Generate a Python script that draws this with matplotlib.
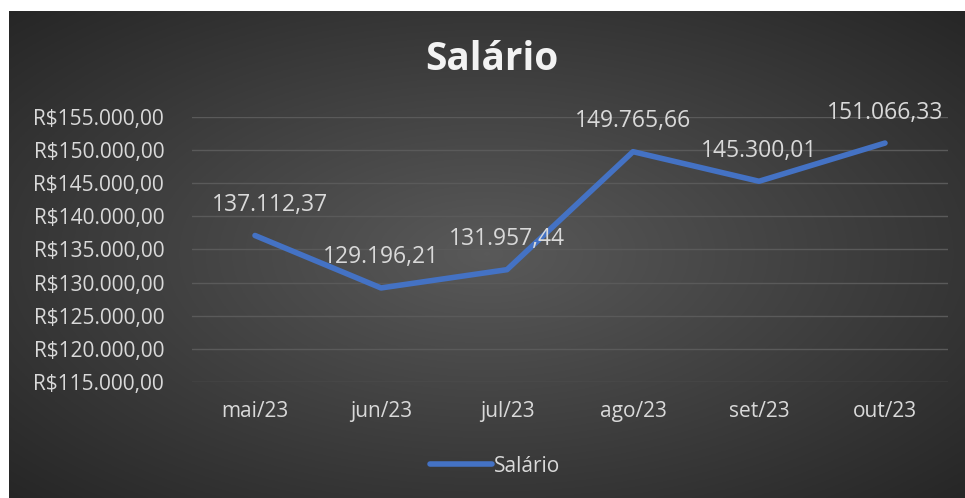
import numpy as np
import matplotlib
matplotlib.use("Agg")
import matplotlib.pyplot as plt
from matplotlib.ticker import FuncFormatter

meses = ["mai/23", "jun/23", "jul/23", "ago/23", "set/23", "out/23"]
salario = [137112.37, 129196.21, 131957.44, 149765.66, 145300.01, 151066.33]
rotulos = ["137.112,37", "129.196,21", "131.957,44", "149.765,66", "145.300,01", "151.066,33"]

plt.rcParams['font.family'] = ['Open Sans', 'DejaVu Sans']
cor_texto = '#d9d9d9'

W, H = 965, 498
fig = plt.figure(figsize=(W / 100, H / 100), dpi=100)
fig.patch.set_facecolor('white')

# fundo com gradiente radial
bg = fig.add_axes([9 / W, 0, 1 - 9 / W, 1 - 11 / H])
yy, xx = np.mgrid[-1:1:300j, -1:1:600j]
r = np.sqrt(xx ** 2 + yy ** 2) / np.sqrt(2)
grad = 0.35 - 0.20 * r
bg.imshow(np.dstack([grad, grad, grad]), aspect='auto', extent=[0, 1, 0, 1])
bg.set_axis_off()

ax = fig.add_axes([192 / W, 1 - 382 / H, (948 - 192) / W, (382 - 117) / H])
ax.patch.set_alpha(0)
x = np.arange(len(meses))
ax.plot(x, salario, color='#4472C4', linewidth=4, solid_capstyle='round',
        solid_joinstyle='round', label='Salário', zorder=3)

for i, (xi, yi, txt) in enumerate(zip(x, salario, rotulos)):
    dx = 11 if i == 0 else 0  # primeiro rótulo fica um pouco à direita
    ax.annotate(txt, (xi, yi), xytext=(dx, 22), textcoords='offset points',
                ha='center', va='center', color=cor_texto, fontsize=16.5)

ax.set_xlim(-0.5, len(meses) - 0.5)
ax.set_ylim(115000, 155000)
ax.set_yticks(np.arange(115000, 155001, 5000))
ax.yaxis.set_major_formatter(FuncFormatter(
    lambda v, p: "R$" + f"{v:,.2f}".replace(",", "X").replace(".", ",").replace("X", ".")))
ax.set_xticks(x)
ax.set_xticklabels(meses)
ax.tick_params(axis='both', length=0, colors=cor_texto, labelsize=15)
ax.tick_params(axis='x', pad=14)
ax.tick_params(axis='y', pad=20)
ax.grid(axis='y', color='#5a5a5a', linewidth=1)
for s in ax.spines.values():
    s.set_visible(False)

fig.text(492 / W, 1 - 60 / H, "Salário", ha='center', va='center',
         color='#f2f2f2', fontsize=28, fontweight='bold')

leg = ax.legend(loc='center', bbox_to_anchor=(495 / W, 1 - 466 / H),
                bbox_transform=fig.transFigure, frameon=False, fontsize=15,
                handlelength=3.0, handletextpad=0.1)
for t in leg.get_texts():
    t.set_color(cor_texto)

fig.savefig('out.png', dpi=100)
